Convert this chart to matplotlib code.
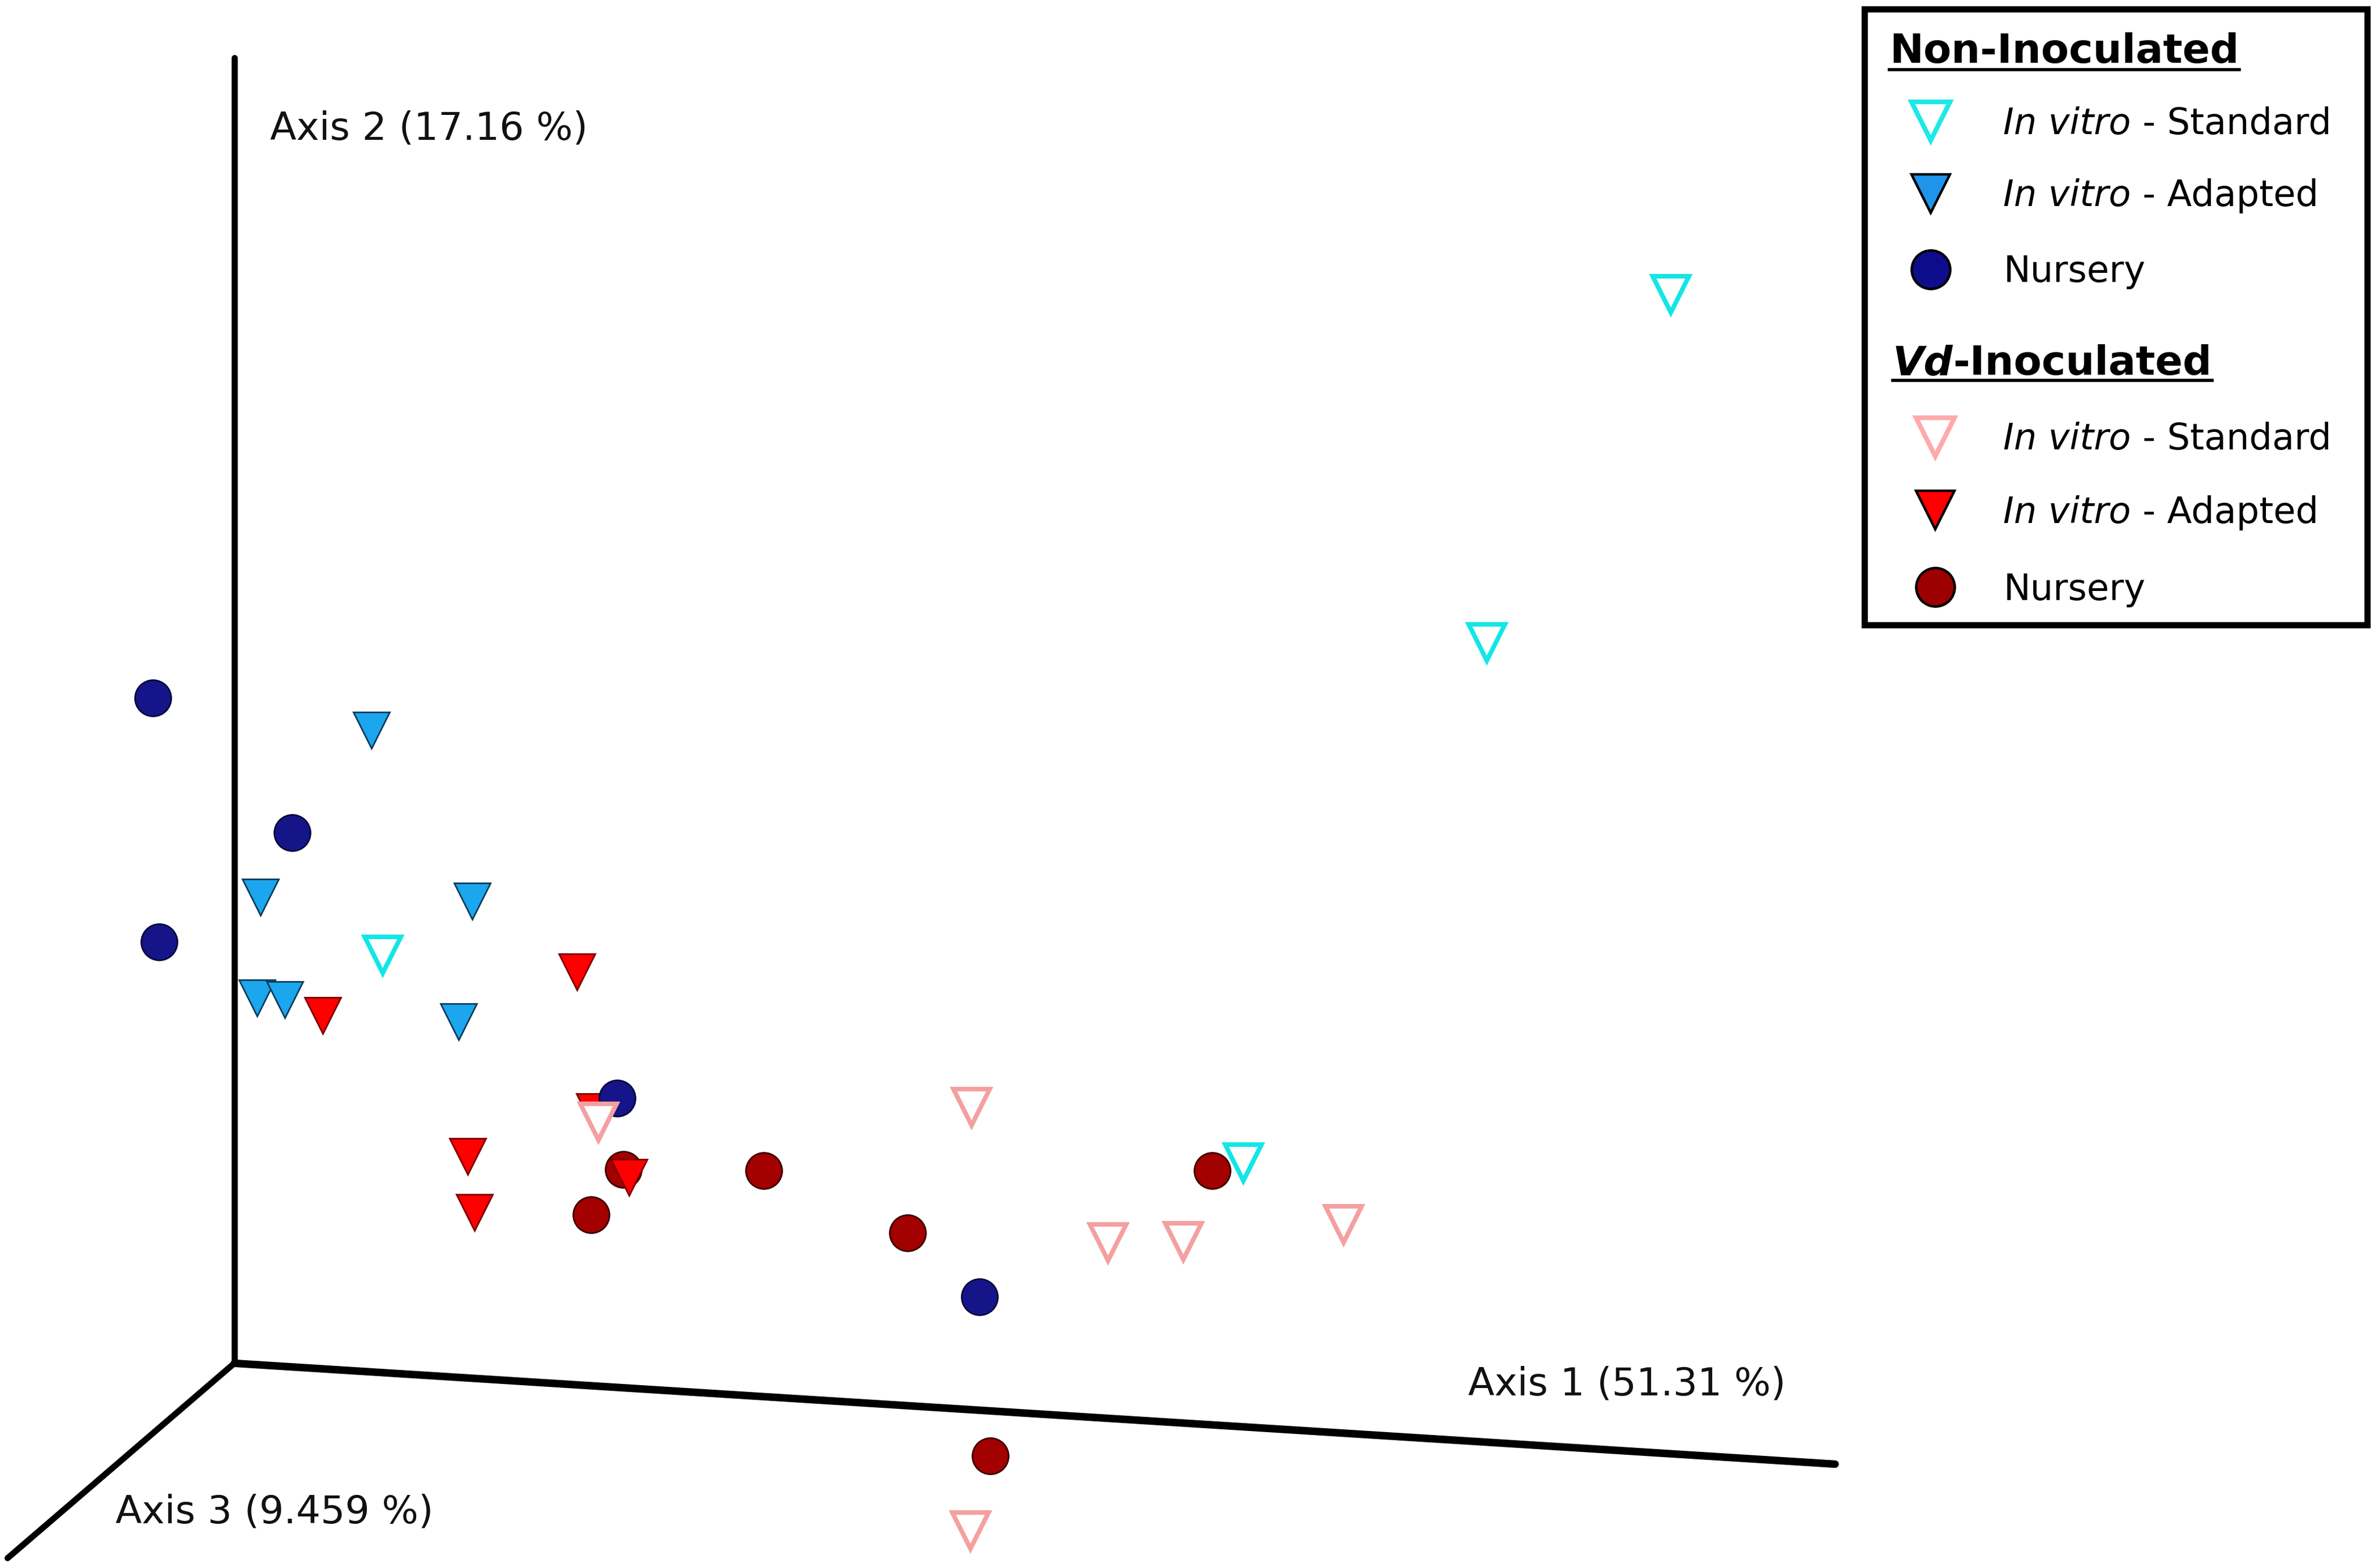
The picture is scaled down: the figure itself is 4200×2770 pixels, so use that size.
import matplotlib
matplotlib.use("Agg")
import matplotlib.pyplot as plt
from matplotlib.patches import Rectangle
from matplotlib.transforms import Bbox

plt.rcParams['font.family'] = ['DejaVu Sans']

# ------------------------------------------------------------
#  PCoA scores, projected onto the picture plane (screen units)
# ------------------------------------------------------------
non_std_x = [1101.8, 980.3, 252.2, 819.9]
non_std_y = [194.1, 423.6, 629.7, 766.7]

non_adp_x = [244.9, 171.8, 311.2, 169.5, 187.8, 302.5]
non_adp_y = [481.7, 591.7, 594.3, 658.0, 659.3, 673.7]

non_nur_x = [100.8, 192.8, 105.0, 406.8, 645.7]
non_nur_y = [460.2, 549.0, 621.0, 724.0, 855.2]

vd_std_x = [394.7, 640.8, 730.8, 780.2, 885.9, 640.0]
vd_std_y = [739.7, 730.2, 819.2, 818.5, 807.4, 1009.2]

vd_adp_x = [380.3, 212.7, 392.0, 308.5, 414.6, 313.0]
vd_adp_y = [641.0, 669.7, 733.0, 762.7, 776.3, 799.4]

vd_nur_x = [411.2, 389.7, 503.7, 598.6, 799.4, 653.1]
vd_nur_y = [771.1, 801.2, 772.0, 813.2, 772.0, 960.2]

# projected ends of the three ordination axes
origin = (154.5, 899.0)
axis1_end = (1210.0, 965.5)
axis2_end = (154.5, 38.0)
axis3_end = (5.0, 1027.5)

axis_labels = ['Axis 1 (51.31 %)', 'Axis 2 (17.16 %)', 'Axis 3 (9.459 %)']

# ---- styles per group: (marker, face, edge, edge width, zorder)
styles = {
    'vd_nur':  ('o', '#a30000', '#3a0000', 1.0, 3),
    'vd_adp':  ('v', '#ff0000', '#7a0000', 1.0, 4),
    'non_nur': ('o', '#151589', '#08083a', 1.0, 5),
    'non_adp': ('v', '#1ba6ee', '#0b3a58', 1.0, 6),
    'vd_std':  ('v', 'white', '#f4a0a0', 2.9, 7),
    'non_std': ('v', 'white', '#12e6e6', 2.9, 8),
}
groups = {
    'vd_nur': (vd_nur_x, vd_nur_y),
    'vd_adp': (vd_adp_x, vd_adp_y),
    'non_nur': (non_nur_x, non_nur_y),
    'non_adp': (non_adp_x, non_adp_y),
    'vd_std': (vd_std_x, vd_std_y),
    'non_std': (non_std_x, non_std_y),
}

fig = plt.figure(figsize=(21, 13.85), dpi=200)
ax = fig.add_axes([0, 0, 1, 1])
ax.set_xlim(0, 1568)
ax.set_ylim(1034, 0)
ax.axis('off')

# axes of the 3D view
ax.plot([origin[0], axis2_end[0]], [origin[1], axis2_end[1]], color='black',
        lw=3.9, solid_capstyle='round', zorder=1)
ax.plot([origin[0], axis1_end[0]], [origin[1], axis1_end[1]], color='black',
        lw=4.8, solid_capstyle='round', zorder=1)
ax.plot([origin[0], axis3_end[0]], [origin[1], axis3_end[1]], color='black',
        lw=3.9, solid_capstyle='round', zorder=1)

lab_kw = dict(fontsize=24.5, color='#111111', va='baseline', ha='left')
ax.text(968, 920, axis_labels[0], **lab_kw)
ax.text(178, 92, axis_labels[1], **lab_kw)
ax.text(76, 1004.5, axis_labels[2], **lab_kw)

for key, (xs, ys) in groups.items():
    m, fc, ec, lw, z = styles[key]
    ax.plot(xs, ys, linestyle='none', marker=m, ms=23 if m == 'v' else 23,
            mfc=fc, mec=ec, mew=lw, zorder=z)

# ------------------------------------------------------------
#  legend (drawn by hand: two underlined section titles)
# ------------------------------------------------------------
ax.add_patch(Rectangle((1229.5, 6), 331.5, 406, fill=False, ec='black',
                       lw=4.0, zorder=10))

fig.canvas.draw()
renderer = fig.canvas.get_renderer()


def underline(parts, y):
    bb = Bbox.union([p.get_window_extent(renderer) for p in parts])
    inv = ax.transData.inverted()
    x0, _ = inv.transform((bb.x0, bb.y0))
    x1, _ = inv.transform((bb.x1, bb.y0))
    ax.plot([x0, x1], [y, y], color='black', lw=2.0, zorder=11)


t1 = ax.text(1246, 41.5, 'Non-Inoculated', fontsize=25.8, fontweight='bold',
             va='baseline', ha='left', zorder=11)
fig.canvas.draw()
underline([t1], 46.0)

t2a = ax.text(1248, 247, 'Vd', fontsize=25.8, fontweight='bold', style='italic',
              va='baseline', ha='left', zorder=11)
t2b = ax.annotate('-Inoculated', xy=(1, 0), xycoords=t2a, fontsize=25.8,
                  fontweight='bold', va='bottom', ha='left', zorder=11)
fig.canvas.draw()
underline([t2a, t2b], 251.0)

leg_rows = [
    (1273, 80, 'v', 'white', '#1ee8e8', 3.0, 'In vitro', ' - Standard'),
    (1273, 127.5, 'v', '#1e95ea', 'black', 1.6, 'In vitro', ' - Adapted'),
    (1273, 177.5, 'o', '#0d0d8c', 'black', 1.6, None, 'Nursery'),
    (1276, 288, 'v', 'white', '#ffaaaa', 3.0, 'In vitro', ' - Standard'),
    (1276, 336.5, 'v', '#ff0000', 'black', 1.6, 'In vitro', ' - Adapted'),
    (1276, 387, 'o', '#9c0000', 'black', 1.6, None, 'Nursery'),
]
for mx, my, m, fc, ec, lw, ital, rest in leg_rows:
    ax.plot([mx], [my], linestyle='none', marker=m, ms=24.5, mfc=fc, mec=ec,
            mew=lw, zorder=11)
    tx, ty = 1321, my + 8.5
    if ital:
        ta = ax.text(tx, ty, ital, fontsize=23, style='italic',
                     va='baseline', ha='left', zorder=11)
        ax.annotate(rest, xy=(1, 0), xycoords=ta, fontsize=23,
                    va='bottom', ha='left', zorder=11)
    else:
        ax.text(tx, ty, rest, fontsize=23, va='baseline', ha='left', zorder=11)

fig.savefig('out.png', dpi=200, facecolor='white')
